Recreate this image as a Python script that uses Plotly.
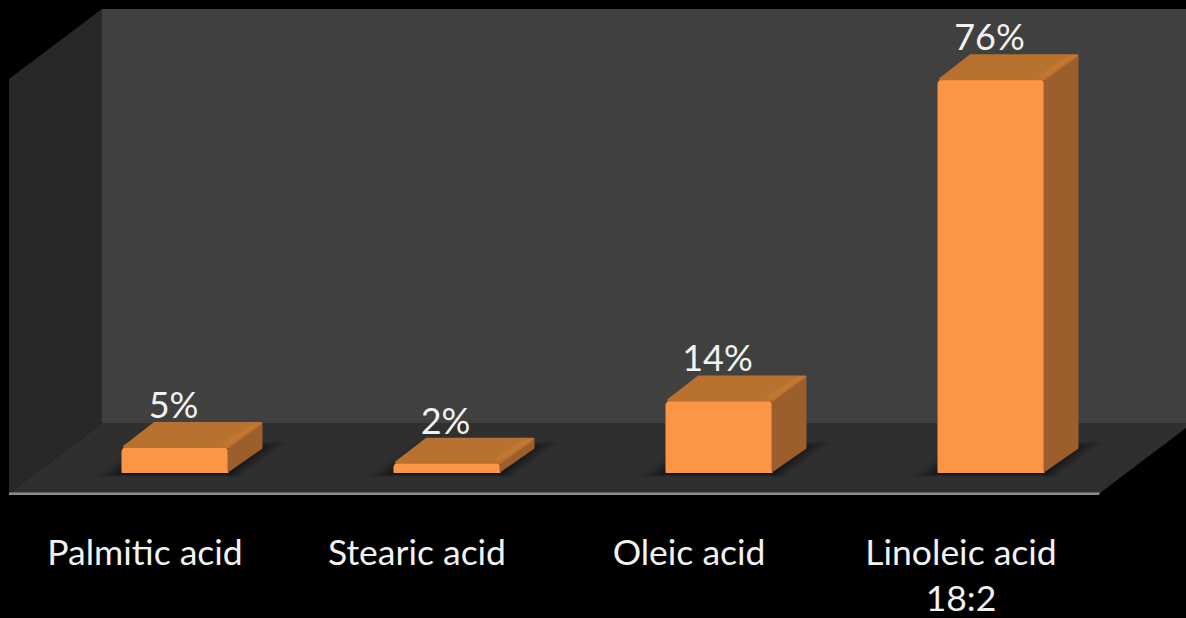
import plotly.graph_objects as go

# Fatty acid composition, percent of total
categories = ["Palmitic acid", "Stearic acid", "Oleic acid", "Linoleic acid<br>18:2"]
values = [5, 2, 14, 76]

WIDTH, HEIGHT = 1186, 618
PLOT_BOTTOM = 528          # pixel row where the plotting area ends
BASE_ROW = 473             # pixel row of the value axis zero
ROW_PER_UNIT = 5.18        # pixels per percentage point
FIRST_COL = 175            # pixel column of the first category
COL_PER_CAT = 272          # pixels per category

BAR_W = 107 / COL_PER_CAT
DEPTH_X = 33 / COL_PER_CAT
DEPTH_Y = 25 / ROW_PER_UNIT
LABEL_SHIFT = 30 / COL_PER_CAT   # category labels sit on the front floor edge
INSET_X = 1.0 / COL_PER_CAT      # room for the rounded stroke around side and top faces
INSET_Y = 1.0 / ROW_PER_UNIT

FRONT, TOP, TOP_EDGE, SIDE = "#fa9645", "#b8712f", "#c27833", "#9c5f2b"


def col(px):
    return (px - FIRST_COL) / COL_PER_CAT


def row(px):
    return (BASE_ROW - px) / ROW_PER_UNIT


def poly(points):
    return "M " + " L ".join(f"{x:.4f},{y:.4f}" for x, y in points) + " Z"


def wall(points, fill):
    return dict(type="path", path=poly([(col(a), row(b)) for a, b in points]),
                fillcolor=fill, line_width=0, layer="below", xref="x", yref="y")


shapes = [
    wall([(102, 9), (1186, 9), (1186, 423), (102, 423)], "#404040"),      # back wall
    wall([(9, 79), (102, 9), (102, 423), (9, 493)], "#282828"),           # side wall
    wall([(9, 493), (102, 423), (1186, 423), (1186, 428), (1100, 493)], "#2f2f2f"),  # floor
    wall([(9, 492.5), (1100, 492.5), (1099, 495), (9, 495)], "#8c8c8c"),  # front floor edge
]

# Soft contact shadow on the floor, built up from stacked translucent layers
SHADOW_LAYERS = [(1.0, 0.05), (0.8, 0.07), (0.6, 0.09), (0.4, 0.12), (0.2, 0.15), (0.0, 0.2)]
for i in range(len(categories)):
    x0, x1 = i - BAR_W / 2, i + BAR_W / 2
    for grow, alpha in SHADOW_LAYERS:
        pad = 28 * grow / COL_PER_CAT
        low = row(474 + 3 * grow)
        high = row(447 - 6 * grow)
        shapes.append(dict(
            type="path", layer="below", xref="x", yref="y", line_width=0,
            fillcolor=f"rgba(0,0,0,{alpha})",
            path=poly([(x0 - pad, low), (x1 + pad * 0.4, low),
                       (x1 + DEPTH_X + pad, high), (x0 + DEPTH_X - pad * 0.4, high)]),
        ))

fig = go.Figure()

# Front faces
fig.add_trace(go.Bar(
    x=list(range(len(values))), y=values, width=BAR_W,
    marker=dict(color=FRONT, line_width=0, cornerradius=5),
    hoverinfo="skip", showlegend=False,
))


def face(points, color, stroke=2.0):
    xs, ys = zip(*points)
    fig.add_trace(go.Scatter(
        x=list(xs) + [xs[0]], y=list(ys) + [ys[0]], mode="lines", fill="toself",
        fillcolor=color, line=dict(color=color, width=stroke),
        hoverinfo="skip", showlegend=False,
    ))


# Side and top faces extruded from each bar's value
for i, v in enumerate(values):
    x0, x1 = i - BAR_W / 2, i + BAR_W / 2
    back = v + DEPTH_Y - INSET_Y
    right = x1 + DEPTH_X
    face([(x1, 0.4), (right, DEPTH_Y), (right, back), (x1, v - INSET_Y)], SIDE)
    face([(x0 + 2 * INSET_X, v), (x1, v), (right, back), (x0 + DEPTH_X, back)], TOP)
    bevel = 8 / COL_PER_CAT
    face([(x1 - bevel * 0.2, v + 0.2), (right, back), (right - bevel, back),
          (x1 - bevel * 0.8, v + 0.6)], TOP_EDGE, stroke=0.5)

# Percentage labels above each bar
fig.add_trace(go.Scatter(
    x=[i - 1.5 / COL_PER_CAT for i in range(len(values))],
    y=[v + DEPTH_Y - 5 / ROW_PER_UNIT for v in values],
    text=[f"{v}%" for v in values], mode="text", textposition="top center",
    textfont=dict(family="Lato", size=36, color="#f2f2f2"),
    hoverinfo="skip", showlegend=False, cliponaxis=False,
))

fig.update_layout(
    width=WIDTH, height=HEIGHT,
    margin=dict(l=0, r=0, t=0, b=HEIGHT - PLOT_BOTTOM, pad=0),
    paper_bgcolor="#000000", plot_bgcolor="#000000",
    shapes=shapes, showlegend=False,
    xaxis=dict(
        range=[col(0), col(WIDTH)], tickmode="array",
        tickvals=[i - LABEL_SHIFT for i in range(len(categories))], ticktext=categories,
        showgrid=False, zeroline=False, showline=False, ticks="",
        tickangle=0, automargin=False,
        tickfont=dict(family="Lato", size=35.5, color="#f2f2f2"),
    ),
    yaxis=dict(range=[row(PLOT_BOTTOM), row(0)], visible=False),
)

fig.write_html("out.html", config=dict(displayModeBar=False))
